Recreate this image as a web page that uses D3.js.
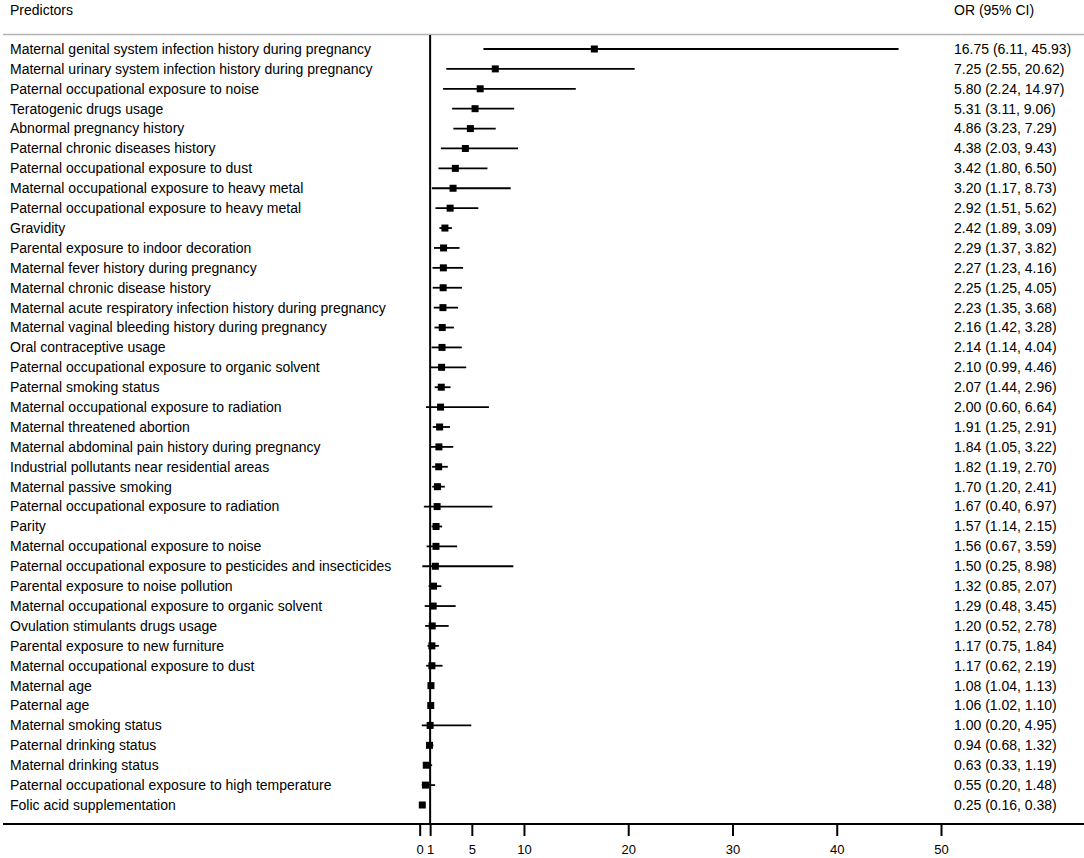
<!DOCTYPE html>
<html><head><meta charset="utf-8">
<script src="https://cdn.jsdelivr.net/npm/d3@7"></script>
<style>body{margin:0;background:#fff}svg{display:block}text{font-family:Arial,"Liberation Sans",sans-serif}</style>
</head><body><svg id="c" width="1084" height="858"></svg>
<script>
const predictors = [
"Maternal genital system infection history during pregnancy",
"Maternal urinary system infection history during pregnancy",
"Paternal occupational exposure to noise",
"Teratogenic drugs usage",
"Abnormal pregnancy history",
"Paternal chronic diseases history",
"Paternal occupational exposure to dust",
"Maternal occupational exposure to heavy metal",
"Paternal occupational exposure to heavy metal",
"Gravidity",
"Parental exposure to indoor decoration",
"Maternal fever history during pregnancy",
"Maternal chronic disease history",
"Maternal acute respiratory infection history during pregnancy",
"Maternal vaginal bleeding history during pregnancy",
"Oral contraceptive usage",
"Paternal occupational exposure to organic solvent",
"Paternal smoking status",
"Maternal occupational exposure to radiation",
"Maternal threatened abortion",
"Maternal abdominal pain history during pregnancy",
"Industrial pollutants near residential areas",
"Maternal passive smoking",
"Paternal occupational exposure to radiation",
"Parity",
"Maternal occupational exposure to noise",
"Paternal occupational exposure to pesticides and insecticides",
"Parental exposure to noise pollution",
"Maternal occupational exposure to organic solvent",
"Ovulation stimulants drugs usage",
"Parental exposure to new furniture",
"Maternal occupational exposure to dust",
"Maternal age",
"Paternal age",
"Maternal smoking status",
"Paternal drinking status",
"Maternal drinking status",
"Paternal occupational exposure to high temperature",
"Folic acid supplementation"
];
const orValues = [16.75,7.25,5.80,5.31,4.86,4.38,3.42,3.20,2.92,2.42,2.29,2.27,2.25,2.23,2.16,2.14,2.10,2.07,2.00,1.91,1.84,1.82,1.70,1.67,1.57,1.56,1.50,1.32,1.29,1.20,1.17,1.17,1.08,1.06,1.00,0.94,0.63,0.55,0.25];
const ciLower = [6.11,2.55,2.24,3.11,3.23,2.03,1.80,1.17,1.51,1.89,1.37,1.23,1.25,1.35,1.42,1.14,0.99,1.44,0.60,1.25,1.05,1.19,1.20,0.40,1.14,0.67,0.25,0.85,0.48,0.52,0.75,0.62,1.04,1.02,0.20,0.68,0.33,0.20,0.16];
const ciUpper = [45.93,20.62,14.97,9.06,7.29,9.43,6.50,8.73,5.62,3.09,3.82,4.16,4.05,3.68,3.28,4.04,4.46,2.96,6.64,2.91,3.22,2.70,2.41,6.97,2.15,3.59,8.98,2.07,3.45,2.78,1.84,2.19,1.13,1.10,4.95,1.32,1.19,1.48,0.38];
const xTicks = [0,1,5,10,20,30,40,50];

const svg = d3.select("#c");
const x = d3.scaleLinear().domain([0,50]).range([419.7,941]);
const y = d3.scalePoint().domain(d3.range(predictors.length)).range([49,805]);
const fmt = d3.format(".2f");

// header
svg.append("text").attr("x",10).attr("y",10).attr("dy","0.35em").attr("font-size",14).text("Predictors");
svg.append("text").attr("x",954).attr("y",10).attr("dy","0.35em").attr("font-size",14).text("OR (95% CI)");
svg.append("line").attr("x1",3).attr("x2",1084).attr("y1",34.5).attr("y2",34.5).attr("stroke","#b4b4b4").attr("stroke-width",1.5);

// reference line at 1
svg.append("line").attr("x1",x(1)).attr("x2",x(1)).attr("y1",35).attr("y2",824).attr("stroke","#000").attr("stroke-width",2);

const rows = svg.append("g").selectAll("g").data(predictors).join("g");
rows.append("text").attr("x",10).attr("y",(d,i)=>y(i)).attr("dy","0.35em").attr("font-size",14).text(d=>d);
rows.append("text").attr("x",954).attr("y",(d,i)=>y(i)).attr("dy","0.35em").attr("font-size",14)
  .text((d,i)=>`${fmt(orValues[i])} (${fmt(ciLower[i])}, ${fmt(ciUpper[i])})`);
rows.append("line").attr("x1",(d,i)=>x(ciLower[i])).attr("x2",(d,i)=>x(ciUpper[i]))
  .attr("y1",(d,i)=>y(i)).attr("y2",(d,i)=>y(i)).attr("stroke","#000").attr("stroke-width",1.8);
rows.append("rect").attr("x",(d,i)=>x(orValues[i])-3.5).attr("y",(d,i)=>y(i)-3.5)
  .attr("width",7).attr("height",7).attr("fill","#000");

// bottom axis
const axis = d3.axisBottom(x).tickValues(xTicks).tickSize(12).tickSizeOuter(0).tickFormat(d3.format("d"));
const ag = svg.append("g").attr("transform","translate(0,824)").call(axis);
ag.select(".domain").remove();
ag.selectAll(".tick line").attr("stroke","#000").attr("stroke-width",2);
ag.selectAll(".tick text").attr("font-size",13).attr("font-family","Arial,'Liberation Sans',sans-serif").attr("fill","#000").attr("y",21);
svg.append("line").attr("x1",3).attr("x2",1084).attr("y1",824).attr("y2",824).attr("stroke","#000").attr("stroke-width",2);
</script></body></html>
